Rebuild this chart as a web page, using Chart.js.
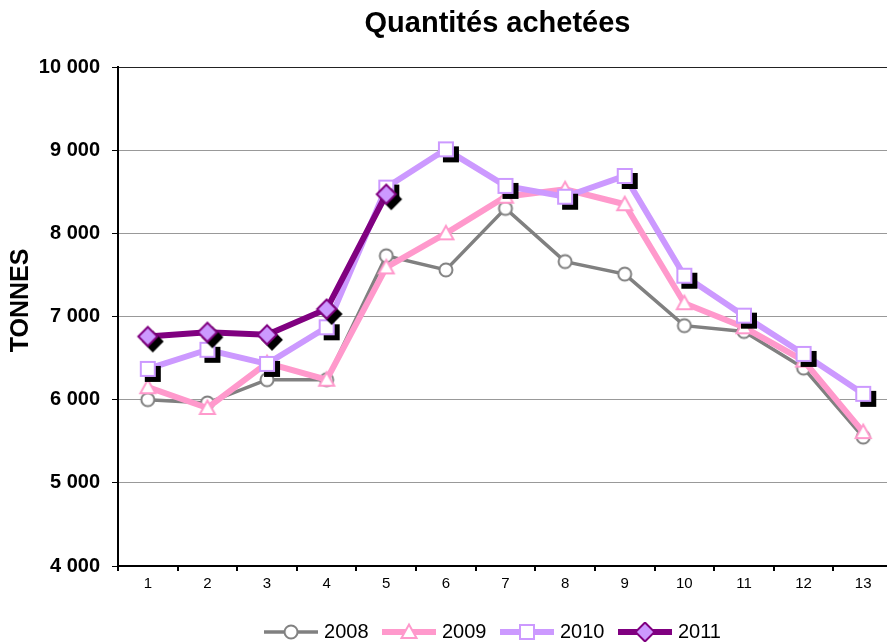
<!DOCTYPE html>
<html>
<head>
<meta charset="utf-8">
<script src="https://cdn.jsdelivr.net/npm/chart.js@4/dist/chart.umd.min.js"></script>
<style>
  html, body { margin: 0; padding: 0; background: #fff; overflow: hidden; }
  #wrap { width: 893px; height: 642px; }
</style>
</head>
<body>
<div id="wrap"><canvas id="achats" width="893" height="642"></canvas></div>
<script>
const months = ['1', '2', '3', '4', '5', '6', '7', '8', '9', '10', '11', '12', '13'];
const tonnes2008 = [6000, 5960, 6240, 6240, 7730, 7560, 8300, 7660, 7510, 6890, 6820, 6380, 5550];
const tonnes2009 = [6150, 5900, 6440, 6240, 7590, 8000, 8440, 8530, 8350, 7160, 6870, 6470, 5610];
const tonnes2010 = [6370, 6600, 6430, 6870, 8550, 9010, 8570, 8440, 8690, 7490, 7010, 6550, 6070];
const tonnes2011 = [6760, 6810, 6780, 7090, 8470, null, null, null, null, null, null, null, null];
const yTicks = [4000, 5000, 6000, 7000, 8000, 9000, 10000];

const FONT = "'Liberation Sans', Arial, sans-serif";

// dessine un marqueur (forme simple) sur un contexte
function drawShape(g, shape, x, y, fill, stroke) {
  g.fillStyle = fill;
  g.strokeStyle = stroke;
  g.lineWidth = 2;
  g.beginPath();
  if (shape === 'circle') {
    g.arc(x, y, 6.5, 0, Math.PI * 2);
  } else if (shape === 'square') {
    g.rect(x - 7, y - 7, 14, 14);
  } else if (shape === 'diamond') {
    g.moveTo(x, y - 9.5); g.lineTo(x + 9.5, y); g.lineTo(x, y + 9.5); g.lineTo(x - 9.5, y);
    g.closePath();
  } else if (shape === 'triangle') {
    g.moveTo(x, y - 7.5); g.lineTo(x + 7.5, y + 6); g.lineTo(x - 7.5, y + 6);
    g.closePath();
  }
  g.fill();
  g.stroke();
}

// marqueur avec ombre noire décalée (style Excel)
function makeMarker(shape, fill, stroke, shadow) {
  const c = document.createElement('canvas');
  c.width = 40; c.height = 40;
  const g = c.getContext('2d');
  if (shadow) drawShape(g, shape, 25, 25, '#000', '#000');
  drawShape(g, shape, 20, 20, fill, stroke);
  return c;
}

// icône de légende : trait + marqueur
function makeLegendIcon(shape, fill, stroke, lineColor, lineWidth) {
  const c = document.createElement('canvas');
  c.width = 54; c.height = 20;
  const g = c.getContext('2d');
  g.strokeStyle = lineColor;
  g.lineWidth = lineWidth;
  g.beginPath(); g.moveTo(0, 10); g.lineTo(54, 10); g.stroke();
  drawShape(g, shape, 27, 10, fill, stroke);
  return c;
}

const series = [
  { label: '2008', data: tonnes2008, color: '#808080', width: 3.5, shape: 'circle', fill: '#fff', stroke: '#808080', shadow: false },
  { label: '2009', data: tonnes2009, color: '#FF99CC', width: 6, shape: 'triangle', fill: '#fff', stroke: '#FF99CC', shadow: false },
  { label: '2010', data: tonnes2010, color: '#CC99FF', width: 6, shape: 'square', fill: '#fff', stroke: '#CC99FF', shadow: true },
  { label: '2011', data: tonnes2011, color: '#800080', width: 6, shape: 'diamond', fill: '#CC99FF', stroke: '#800080', shadow: true }
];

const legendIcons = series.map(s => makeLegendIcon(s.shape, s.fill, s.stroke, s.color, s.width));

const datasets = series.map((s, i) => ({
  label: s.label,
  data: s.data,
  borderColor: s.color,
  backgroundColor: s.color,
  borderWidth: s.width,
  tension: 0,
  spanGaps: false,
  pointStyle: makeMarker(s.shape, s.fill, s.stroke, s.shadow),
  pointRadius: 8,
  pointHoverRadius: 8,
  order: series.length - i // 2011 au premier plan
}));

const fmt = v => String(v).replace(/\B(?=(\d{3})+(?!\d))/g, ' ');

// titre du graphique et titre de l'axe Y, placés comme dans Excel
const titlesPlugin = {
  id: 'titles',
  afterLayout(c) {
    // la légende d'Excel est un peu décalée vers la gauche
    if (c.legend) { c.legend.left -= 11; c.legend.right -= 11; }
  },
  afterDraw(c) {
    const g = c.ctx;
    const a = c.chartArea;
    g.save();
    g.fillStyle = '#000';
    g.textAlign = 'center';
    g.textBaseline = 'middle';
    g.font = `bold 29px ${FONT}`;
    g.fillText('Quantités achetées', (a.left + a.right) / 2 - 8, 24);
    g.translate(21, (a.top + a.bottom) / 2 - 16);
    g.rotate(-Math.PI / 2);
    g.font = `bold 25px ${FONT}`;
    g.fillText('TONNES', 0, 0);
    g.restore();
  }
};

const ctx = document.getElementById('achats').getContext('2d');
const chart = new Chart(ctx, {
  type: 'line',
  data: { labels: months, datasets: datasets },
  plugins: [titlesPlugin],
  options: {
    responsive: false,
    animation: false,
    devicePixelRatio: 1,
    layout: { autoPadding: false, padding: { left: 0, right: 0, top: 67, bottom: -10 } },
    plugins: {
      title: { display: false },
      legend: {
        position: 'bottom',
        fullSize: false,
        labels: {
          usePointStyle: true,
          pointStyleWidth: 46,
          color: '#000',
          padding: 17.5,
          font: { family: FONT, size: 20 },
          generateLabels: (c) => c.data.datasets.map((ds, i) => ({
            text: ds.label,
            pointStyle: legendIcons[i],
            datasetIndex: i,
            fontColor: '#000',
            fillStyle: 'transparent',
            strokeStyle: 'transparent',
            lineWidth: 0,
            hidden: false
          }))
        }
      },
      tooltip: { enabled: false }
    },
    scales: {
      x: {
        offset: true,
        afterFit: (scale) => { scale.paddingLeft = 0; scale.paddingRight = 0; scale.height = 38.5; },
        grid: { display: true, offset: true, drawOnChartArea: false, tickLength: 5, tickColor: '#000', lineWidth: 2 },
        border: { display: true, color: '#000', width: 2 },
        ticks: { color: '#000', padding: 4, font: { family: FONT, size: 15 } }
      },
      y: {
        min: yTicks[0],
        max: yTicks[yTicks.length - 1],
        afterFit: (scale) => { scale.width = 118; },
        afterBuildTicks: (scale) => { scale.ticks = yTicks.map(v => ({ value: v })); },
        grid: {
          color: (c) => c.tick && c.tick.value === 10000 ? '#222' : '#999',
          tickColor: '#000',
          tickLength: 6,
          lineWidth: 1
        },
        border: { display: true, color: '#000', width: 2 },
        ticks: {
          color: '#000',
          padding: 12,
          font: { family: FONT, size: 20, weight: 'bold' },
          callback: (v) => fmt(v)
        }
      }
    }
  }
});
</script>
</body>
</html>
